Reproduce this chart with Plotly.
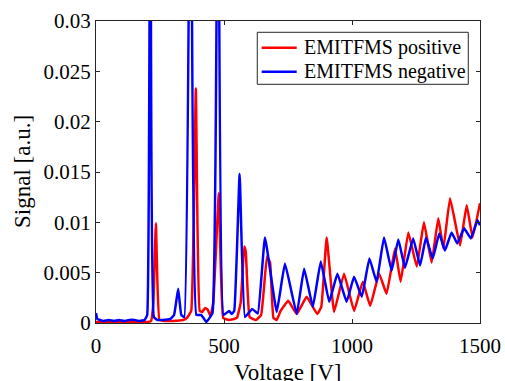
import plotly.graph_objects as go

# Voltage [V] and signal values
pos_v = [0, 40, 80, 120, 160, 200, 215, 224, 234, 248, 270, 300, 340, 355, 372, 390, 405, 415, 426, 437, 447, 458,
         480, 497, 520, 550, 565, 579, 585, 600, 625, 645, 668, 680, 693, 706, 721, 751, 784, 823, 864, 880, 901,
         930, 969, 1008, 1042, 1071, 1106, 1135, 1168, 1190, 1220, 1253, 1281, 1311, 1337, 1357, 1383, 1422,
         1448, 1471, 1500]
pos_s = [0.0001, 0.0001, 0.0001, 0.0001, 0.0001, 0.0001, 0.0002, 0.002, 0.0099, 0.0003, 0.0002, 0.0002, 0.0003,
         0.0005, 0.0012, 0.0233, 0.0012, 0.0011, 0.0015, 0.0013, 0.0007, 0.002, 0.0129, 0.0005, 0.0003, 0.0005,
         0.002, 0.0076, 0.0071, 0.0006, 0.0003, 0.0008, 0.0066, 0.006, 0.0005, 0.0003, 0.0012, 0.0022, 0.0009,
         0.0026, 0.0009, 0.0016, 0.0085, 0.0011, 0.0049, 0.0012, 0.0041, 0.0017, 0.0049, 0.0029, 0.0074, 0.0041,
         0.009, 0.0056, 0.010, 0.006, 0.0104, 0.0074, 0.0124, 0.0077, 0.0117, 0.0085, 0.0119]

neg_v = [0, 5, 15, 30, 50, 70, 90, 110, 130, 150, 170, 190, 200, 213, 226, 240, 260, 290, 305, 321, 333, 345,
         370, 392, 410, 420, 431, 455, 477, 498, 520, 530, 540, 561, 582, 610, 632, 660, 706, 738, 784, 813, 847,
         878, 911, 943, 979, 1008, 1038, 1068, 1096, 1125, 1155, 1181, 1207, 1239, 1266, 1289, 1315, 1341, 1363,
         1389, 1411, 1438, 1464, 1490, 1500]
neg_s = [0.0010, 0.0004, 0.0003, 0.0002, 0.0003, 0.0002, 0.0003, 0.0002, 0.0003, 0.0003, 0.0002, 0.0003, 0.0008,
         0.07, 0.0006, 0.0003, 0.0003, 0.0004, 0.0008, 0.0034, 0.0008, 0.0006, 0.06, 0.0008, 0.0008, 0.0005,
         0.0001, 0.001, 0.06, 0.0008, 0.0012, 0.0009, 0.0012, 0.0148, 0.0006, 0.0014, 0.00095, 0.0085, 0.0011,
         0.0059, 0.0009, 0.0054, 0.0016, 0.0061, 0.0021, 0.0049, 0.0021, 0.0046, 0.0026, 0.0064, 0.0041, 0.0085,
         0.0052, 0.0083, 0.0055, 0.0084, 0.0057, 0.0085, 0.0064, 0.0089, 0.0072, 0.009, 0.0079, 0.0094, 0.0084,
         0.0102, 0.0097]

series_names = ["EMITFMS positive", "EMITFMS negative"]
series_colors = ["#ff0000", "#0000ff"]
x_ticks = [0, 500, 1000, 1500]
y_ticks = [0, 0.005, 0.01, 0.015, 0.02, 0.025, 0.03]
y_tick_text = ["0", "0.005", "0.01", "0.015", "0.02", "0.025", "0.03"]
x_title = "Voltage [V]"
y_title = "Signal [a.u.]"

FONT = "Liberation Serif, Times New Roman, serif"
AX = "#262626"
LW = 2.5

fig = go.Figure()
for xs, ys, name, col in [(pos_v, pos_s, series_names[0], series_colors[0]),
                          (neg_v, neg_s, series_names[1], series_colors[1])]:
    fig.add_trace(go.Scatter(x=xs, y=ys, mode="lines", name=name, showlegend=False,
                             line=dict(color=col, width=LW, shape="spline", smoothing=0.3)))

axis_common = dict(showgrid=False, zeroline=False, showline=True, linecolor=AX, linewidth=1,
                   mirror="ticks", ticks="inside", ticklen=4, tickcolor=AX, automargin=False,
                   tickfont=dict(family=FONT, size=21, color="#000000"))

fig.update_xaxes(range=[0, 1500], tickvals=x_ticks, ticklabelstandoff=4, **axis_common)
fig.update_yaxes(range=[0, 0.03], tickvals=y_ticks, ticktext=y_tick_text, **axis_common)

fig.add_annotation(text=x_title, xref="paper", yref="paper", x=0.5, y=0, xanchor="center",
                   yanchor="top", yshift=-35, showarrow=False,
                   font=dict(family=FONT, size=23, color="#000000"))
fig.add_annotation(text=y_title, xref="paper", yref="paper", x=0, y=0.5, xanchor="center",
                   yanchor="middle", xshift=-74, textangle=-90, showarrow=False,
                   font=dict(family=FONT, size=23, color="#000000"))

# Legend box (MATLAB style), drawn in paper coordinates
fig.add_shape(type="rect", xref="paper", yref="paper", x0=0.420, x1=0.9695, y0=0.7904, y1=0.9626,
              line=dict(color=AX, width=1), fillcolor="white", layer="above")
for i, (name, col) in enumerate(zip(series_names, series_colors)):
    yy = 0.9116 - i * 0.0795
    fig.add_shape(type="line", xref="paper", yref="paper", x0=0.4315, x1=0.5227, y0=yy, y1=yy,
                  line=dict(color=col, width=LW), layer="above")
    fig.add_annotation(text=name, xref="paper", yref="paper", x=0.5357, y=yy, xanchor="left",
                       yanchor="middle", showarrow=False,
                       font=dict(family=FONT, size=20, color="#000000"))

fig.update_layout(
    width=505, height=381,
    margin=dict(l=96, r=25, t=21, b=58, autoexpand=False),
    font=dict(family=FONT, color="#000000"),
    plot_bgcolor="white", paper_bgcolor="white",
    showlegend=False,
)

fig.write_html("out.html",
               config={"displayModeBar": False},
               post_script="document.body.style.margin='0';"
                           "document.documentElement.style.overflow='hidden';"
                           "document.body.style.overflow='hidden';")
